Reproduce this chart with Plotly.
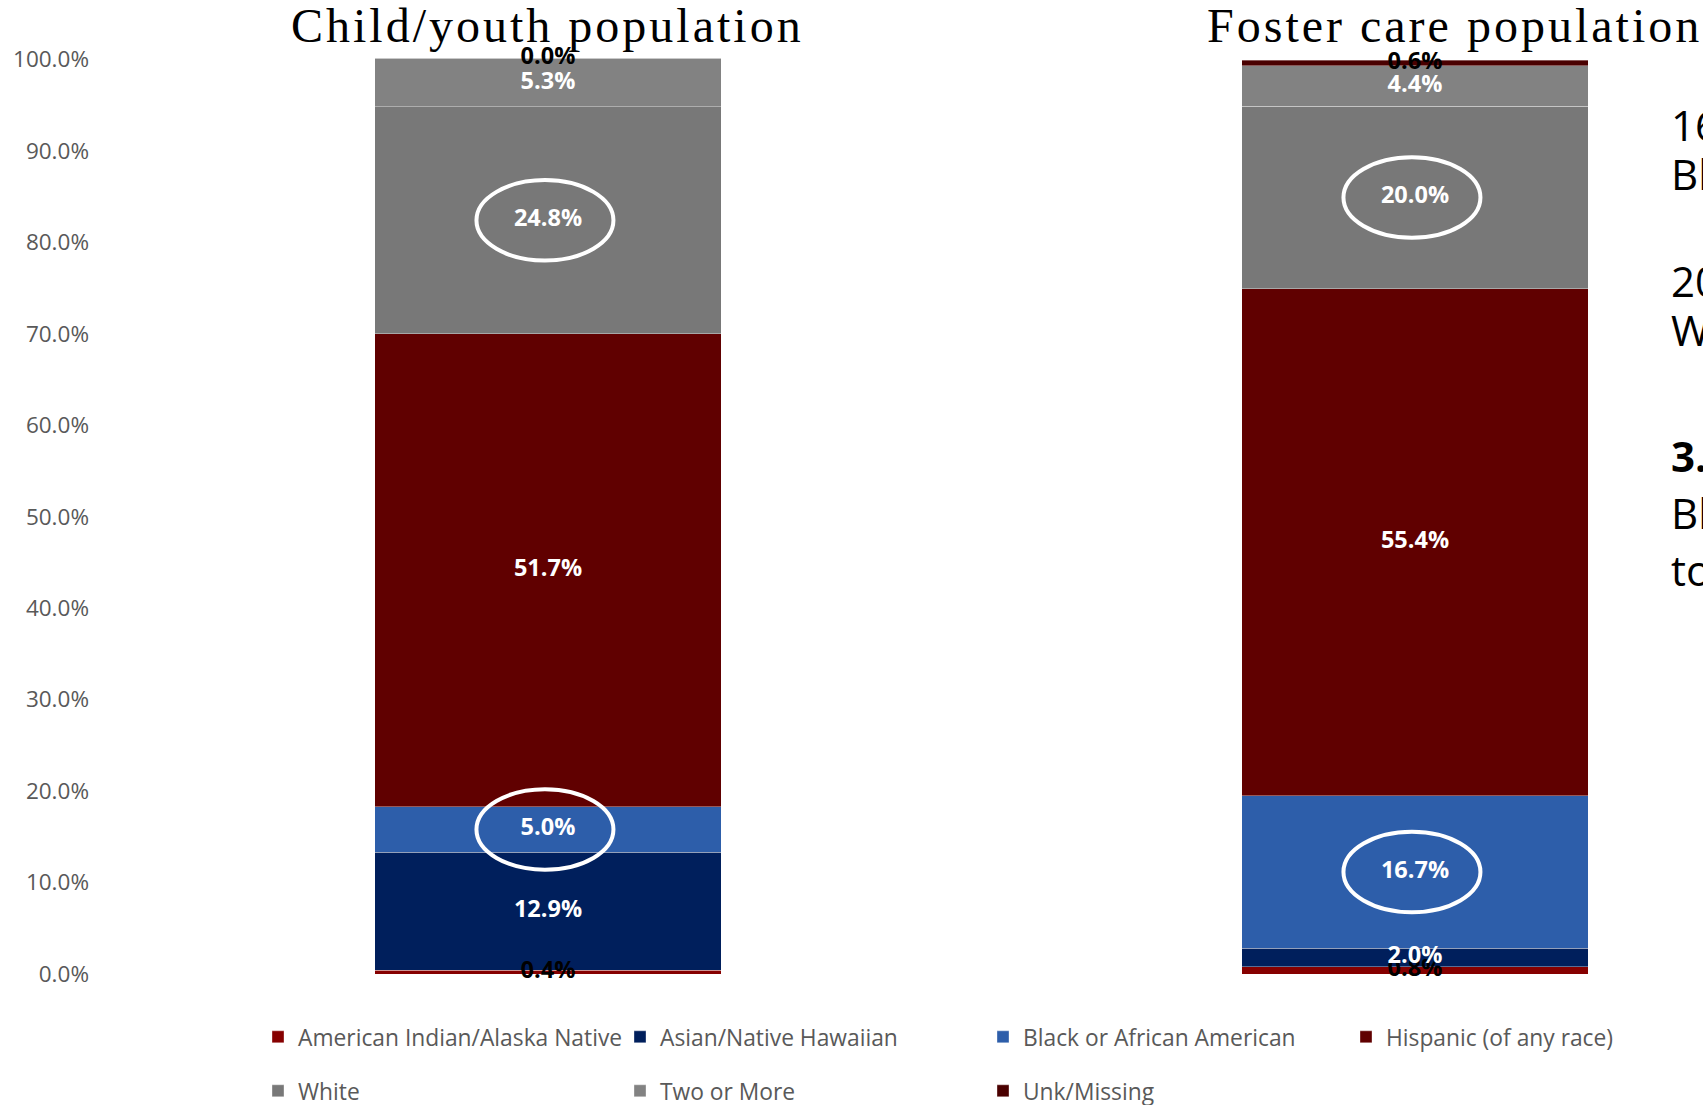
import plotly.graph_objects as go

# --- data -------------------------------------------------------------
populations = ["Child/youth population", "Foster care population"]
groups = [
    "American Indian/Alaska Native",
    "Asian/Native Hawaiian",
    "Black or African American",
    "Hispanic (of any race)",
    "White",
    "Two or More",
    "Unk/Missing",
]
child_pct = [0.4, 12.9, 5.0, 51.7, 24.8, 5.3, 0.0]
foster_pct = [0.8, 2.0, 16.7, 55.4, 20.0, 4.4, 0.6]
y_ticks = [0, 10, 20, 30, 40, 50, 60, 70, 80, 90, 100]
y_tick_labels = ["0.0%", "10.0%", "20.0%", "30.0%", "40.0%", "50.0%",
                 "60.0%", "70.0%", "80.0%", "90.0%", "100.0%"]
highlighted = ["Black or African American", "White"]
side_notes = [
    ("16.7% of youth in care are", False),
    ("Black", False),
    ("20.0% of youth in care are", False),
    ("White", False),
    ("3.3x", True),
    ("Black youth more likely", False),
    ("to be in foster care", False),
]

# --- styling ----------------------------------------------------------
bar_colors = ["#860000", "#001F5C", "#2D5EAA", "#600000", "#787878", "#828282", "#4A0000"]
label_colors = ["#000000", "#FFFFFF", "#FFFFFF", "#FFFFFF", "#FFFFFF", "#FFFFFF", "#000000"]
note_y_px = [125, 174, 280, 329, 456, 512, 569]
# legend grid: 4 columns x 2 rows (pixel positions of the swatches)
legend_cols_px = [272, 634, 997, 1360]
legend_rows_px = [1037, 1091]

W, H = 1703, 1105
ML, MR, MT, MB = 100, 0, 58, 131
plot_w = W - ML - MR
plot_h = H - MT - MB

x_pos = [0, 1]
x_range = [-0.5167, 1.3322]
bar_width = 0.40


def paper_y(py):
    return (H - MB - py) / plot_h


def paper_x(px):
    return (px - ML) / plot_w


fig = go.Figure()

series = [child_pct, foster_pct]
bottoms = [0.0, 0.0]
mids = {}
legend_layout = {}
for i, g in enumerate(groups):
    vals = [s[i] for s in series]
    lg = "legend" if i == 0 else f"legend{i + 1}"
    fig.add_trace(go.Bar(
        x=x_pos, y=vals, name=g, width=bar_width,
        marker=dict(color=bar_colors[i],
                    line=dict(color="rgba(255,255,255,0.35)", width=1)),
        legend=lg,
        hoverinfo="skip",
    ))
    legend_layout[lg] = dict(
        x=paper_x(legend_cols_px[i % 4] - 14), xanchor="left",
        y=paper_y(legend_rows_px[i // 4]), yanchor="middle",
        orientation="h", bgcolor="rgba(0,0,0,0)",
        font=dict(family="Open Sans", size=22.8, color="#595959"),
    )
    mids[g] = [b + v / 2 for b, v in zip(bottoms, vals)]
    fig.add_trace(go.Scatter(
        x=x_pos, y=mids[g], mode="text",
        text=[f"<b>{v:.1f}%</b>" for v in vals],
        textposition="middle center",
        textfont=dict(family="Open Sans", size=23.5, color=label_colors[i]),
        showlegend=False, hoverinfo="skip", cliponaxis=False,
    ))
    bottoms = [b + v for b, v in zip(bottoms, vals)]

# white rings around the highlighted shares
for g in highlighted:
    for xp, ym in zip(x_pos, mids[g]):
        fig.add_shape(type="circle", xref="x", yref="y",
                      x0=xp - 0.0825, x1=xp + 0.0755,
                      y0=ym - 4.4, y1=ym + 4.4,
                      line=dict(color="white", width=4))

# column titles
title_shift = [0, 40]
for xp, name, sh in zip(x_pos, populations, title_shift):
    fig.add_annotation(
        x=xp, xref="x", y=paper_y(26), yref="paper",
        text=f'<span style="letter-spacing:3px">{name}</span>',
        showarrow=False, xanchor="center", yanchor="middle", xshift=sh,
        font=dict(family="Liberation Serif", size=48, color="#000000"),
    )

# side notes
for (txt, bold), py in zip(side_notes, note_y_px):
    fig.add_annotation(
        x=paper_x(1669), xref="paper", y=paper_y(py), yref="paper",
        text=f"<b>{txt}</b>" if bold else txt,
        showarrow=False, xanchor="left", yanchor="middle", align="left",
        font=dict(family="Open Sans", size=42, color="#000000"),
    )

fig.update_layout(
    width=W, height=H,
    margin=dict(l=ML, r=MR, t=MT, b=MB, autoexpand=False),
    barmode="stack",
    paper_bgcolor="white", plot_bgcolor="white",
    showlegend=True,
    xaxis=dict(range=x_range, visible=False, fixedrange=True),
    yaxis=dict(range=[0, 100.15], tickvals=y_ticks, ticktext=y_tick_labels,
               showgrid=False, zeroline=False, showline=False, ticks="",
               ticklabelstandoff=10,
               tickfont=dict(family="Open Sans", size=22.5, color="#595959")),
    font=dict(family="Open Sans"),
    **legend_layout,
)

fig.write_html("out.html")
